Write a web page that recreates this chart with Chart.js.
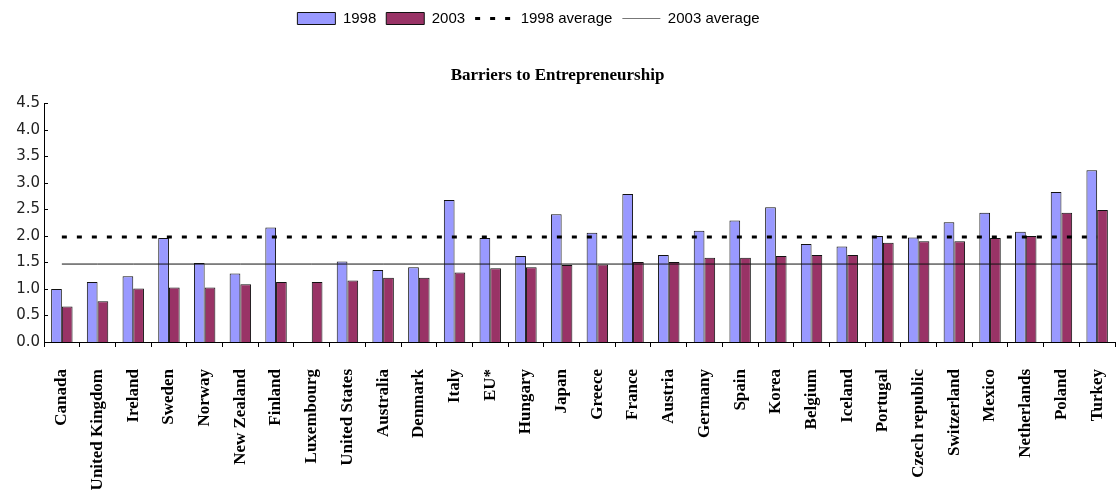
<!DOCTYPE html>
<html>
<head>
<meta charset="utf-8">
<script src="https://cdn.jsdelivr.net/npm/chart.js@4.4.1/dist/chart.umd.min.js"></script>
<style>
	html, body { margin: 0; padding: 0; background: #fff; }
	#wrap { width: 1118px; height: 500px; }
</style>
</head>
<body>
<div id="wrap"><canvas id="barriers" width="1118" height="500"></canvas></div>
<script>
var countries = ["Canada", "United Kingdom", "Ireland", "Sweden", "Norway", "New Zealand", "Finland",
	"Luxembourg", "United States", "Australia", "Denmark", "Italy", "EU*", "Hungary", "Japan", "Greece",
	"France", "Austria", "Germany", "Spain", "Korea", "Belgium", "Iceland", "Portugal", "Czech republic",
	"Switzerland", "Mexico", "Netherlands", "Poland", "Turkey"];

var values1998 = [1.0, 1.13, 1.24, 1.96, 1.49, 1.29, 2.16, null, 1.52, 1.36, 1.41, 2.68, 1.96, 1.62, 2.41,
	2.06, 2.79, 1.64, 2.10, 2.29, 2.54, 1.85, 1.80, 2.00, 1.97, 2.26, 2.44, 2.08, 2.83, 3.24];

var values2003 = [0.67, 0.77, 1.01, 1.03, 1.03, 1.09, 1.13, 1.13, 1.16, 1.21, 1.21, 1.31, 1.39, 1.41, 1.45,
	1.46, 1.51, 1.51, 1.59, 1.59, 1.62, 1.64, 1.64, 1.87, 1.90, 1.90, 1.96, 2.00, 2.44, 2.49];

var average1998 = 1.98;
var average2003 = 1.47;

var yTicks = [0, 0.5, 1.0, 1.5, 2.0, 2.5, 3.0, 3.5, 4.0, 4.5];

// the averages are flat reference lines across all countries
var avgLine1998 = countries.map(function(){ return average1998; });
var avgLine2003 = countries.map(function(){ return average2003; });

// short inward ticks on the value axis, like the original
var innerTicks = {
	id: 'innerTicks',
	afterLayout: function(chart){
		// legend sits a bit left of centre in the original
		if (chart.legend) { chart.legend.right -= 58; }
	},
	afterDraw: function(chart){
		var y = chart.scales.y;
		var ctx = chart.ctx;
		ctx.save();
		ctx.strokeStyle = '#000';
		ctx.lineWidth = 1;
		yTicks.forEach(function(v){
			var py = Math.round(y.getPixelForValue(v)) + 0.5;
			ctx.beginPath();
			ctx.moveTo(y.right, py);
			ctx.lineTo(y.right + 4, py);
			ctx.stroke();
		});
		ctx.restore();
	}
};

var chartdata = {
	labels: countries,
	datasets: [
		{
			type: 'bar',
			label: "1998",
			backgroundColor: "#9999FF",
			borderColor: "#111",
			borderWidth: 1,
			order: 2,
			data: values1998
		},
		{
			type: 'bar',
			label: "2003",
			backgroundColor: "#993366",
			borderColor: "#111",
			borderWidth: 1,
			order: 2,
			data: values2003
		},
		{
			type: 'line',
			label: "1998 average",
			borderColor: "#000",
			backgroundColor: "#000",
			borderWidth: 3,
			borderDash: [5, 10],
			pointRadius: 0,
			fill: false,
			order: 1,
			data: avgLine1998
		},
		{
			type: 'line',
			label: "2003 average",
			borderColor: "#111",
			backgroundColor: "#111",
			borderWidth: 1,
			pointRadius: 0,
			fill: false,
			order: 1,
			data: avgLine2003
		}
	]
};

var ctx = document.getElementById("barriers");

var barChart = new Chart(ctx, {
	type: 'bar',
	data: chartdata,
	plugins: [innerTicks],
	options: {
		responsive: false,
		animation: false,
		datasets: {
			bar: { categoryPercentage: 0.6, barPercentage: 1.0 }
		},
		layout: { padding: { top: 1, right: 3, left: 0, bottom: 0 } },
		plugins: {
			tooltip: { enabled: false },
			legend: {
				position: 'top',
				labels: {
					usePointStyle: true,
					pointStyleWidth: 38,
					boxHeight: 12,
					padding: 10,
					color: '#000',
					font: { family: "'Liberation Sans', Arial, sans-serif", size: 15 },
					sort: function(a, b){ return a.datasetIndex - b.datasetIndex; },
					generateLabels: function(chart){
						var items = Chart.defaults.plugins.legend.labels.generateLabels(chart);
						items.forEach(function(item){
							var ds = chart.data.datasets[item.datasetIndex];
							if (ds.type === 'line') {
								item.pointStyle = 'line';
								item.lineWidth = ds.borderWidth;
								item.lineDash = ds.borderDash || [];
								item.strokeStyle = ds.label === "2003 average" ? '#777' : '#000';
							} else {
								item.pointStyle = 'rect';
								item.lineWidth = 1;
							}
						});
						return items;
					}
				}
			},
			title: {
				display: true,
				weight: 500,
				text: "Barriers to Entrepreneurship",
				color: '#000',
				font: { family: "'Liberation Serif', 'Times New Roman', serif", size: 17, weight: 'bold' },
				padding: { top: 29, bottom: 18 }
			}
		},
		scales: {
			x: {
				offset: true,
				grid: { offset: true, drawOnChartArea: false, tickLength: 5, color: '#000' },
				border: { color: '#000', width: 1 },
				ticks: {
					autoSkip: false,
					minRotation: 90,
					maxRotation: 90,
					padding: 22,
					color: '#000',
					font: { family: "'Liberation Serif', 'Times New Roman', serif", size: 17, weight: 'bold' }
				},
				afterFit: function(scale){
					scale.height = 158;
					scale.paddingLeft = 0;
					scale.paddingRight = 0;
				}
			},
			y: {
				min: 0,
				max: 4.5,
				grid: { display: false, drawTicks: false },
				border: { color: '#000', width: 1 },
				afterBuildTicks: function(scale){
					scale.ticks = yTicks.map(function(v){ return { value: v }; });
				},
				ticks: {
					padding: 4,
					color: '#222',
					font: { family: "'DejaVu Sans', Verdana, sans-serif", size: 15 },
					callback: function(value){ return Number(value).toFixed(1); }
				},
				afterFit: function(scale){ scale.width = 44; }
			}
		}
	}
});
</script>
</body>
</html>
